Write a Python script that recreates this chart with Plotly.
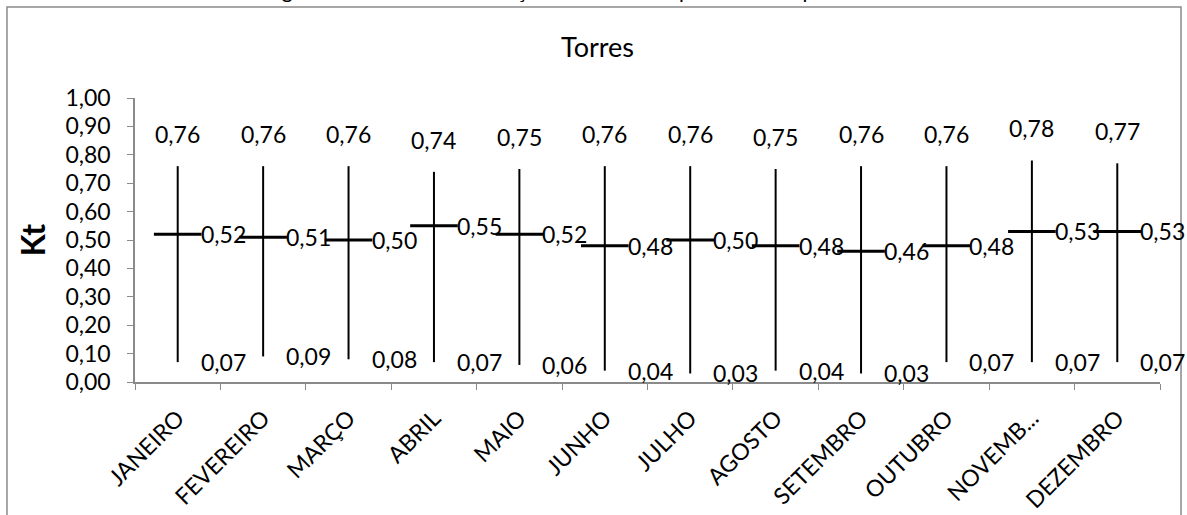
import plotly.graph_objects as go

# Monthly clearness index (Kt) for Torres: maximum, mean and minimum
meses = ["JANEIRO", "FEVEREIRO", "MARÇO", "ABRIL", "MAIO", "JUNHO",
         "JULHO", "AGOSTO", "SETEMBRO", "OUTUBRO", "NOVEMB...", "DEZEMBRO"]
kt_max = [0.76, 0.76, 0.76, 0.74, 0.75, 0.76, 0.76, 0.75, 0.76, 0.76, 0.78, 0.77]
kt_med = [0.52, 0.51, 0.50, 0.55, 0.52, 0.48, 0.50, 0.48, 0.46, 0.48, 0.53, 0.53]
kt_min = [0.07, 0.09, 0.08, 0.07, 0.06, 0.04, 0.03, 0.04, 0.03, 0.07, 0.07, 0.07]

y_ticks = [i / 10 for i in range(11)]
y_tick_text = [f"{v:.2f}".replace(".", ",") for v in y_ticks]

FONT = "Lato"
GRAY = "#8a8a8a"
LABEL_SIZE = 23


def br(v):
    return f"{v:.2f}".replace(".", ",")


# High-low segments: one trace with gaps between months
seg_x, seg_y = [], []
for m, lo, hi in zip(meses, kt_min, kt_max):
    seg_x += [m, m, None]
    seg_y += [lo, hi, None]

fig = go.Figure()
fig.add_trace(go.Scatter(
    x=seg_x, y=seg_y, mode="lines",
    line=dict(color="black", width=2),
    hoverinfo="skip", showlegend=False,
))
fig.add_trace(go.Scatter(
    x=meses, y=kt_med, mode="markers",
    marker=dict(symbol="line-ew", size=34, line=dict(color="black", width=3)),
    showlegend=False,
))

annotations = []
for m, hi, md, lo in zip(meses, kt_max, kt_med, kt_min):
    annotations.append(dict(x=m, y=hi, text=br(hi), showarrow=False,
                            xanchor="center", yanchor="middle", yshift=32))
    annotations.append(dict(x=m, y=md, text=br(md), showarrow=False,
                            xanchor="left", yanchor="middle", xshift=21))
    annotations.append(dict(x=m, y=lo, text=br(lo), showarrow=False,
                            xanchor="left", yanchor="middle", xshift=21))

# Chart title and the figure caption above the chart frame
annotations.append(dict(xref="paper", yref="paper", x=0.4512, y=1.18,
                        text="Torres", showarrow=False,
                        xanchor="center", yanchor="middle",
                        font=dict(size=27)))
annotations.append(dict(xref="paper", yref="paper", x=0.447, y=1.331,
                        text="Figura 4.12 – Faixa de variação do Kt mensal para o município de Torres",
                        showarrow=False, xanchor="center", yanchor="bottom",
                        font=dict(size=21)))

fig.update_layout(
    width=1187, height=515,
    margin=dict(l=135, r=27, t=98, b=133),
    paper_bgcolor="white", plot_bgcolor="white",
    font=dict(family=FONT, size=LABEL_SIZE, color="black"),
    annotations=annotations,
    shapes=[dict(type="rect", xref="paper", yref="paper",
                 x0=-0.1249, x1=1.0205, y0=-0.6, y1=1.3204,
                 line=dict(color=GRAY, width=1.5), layer="below")],
    xaxis=dict(
        type="category", categoryorder="array", categoryarray=meses,
        tickangle=-45, tickson="boundaries", ticks="outside", ticklen=6,
        tickcolor=GRAY, showline=True, linecolor=GRAY, linewidth=1.5,
        showgrid=False, zeroline=False, range=[-0.5, 11.5],
        tickfont=dict(size=23), ticklabelstandoff=12, automargin=False,
    ),
    yaxis=dict(
        range=[0, 1], tickvals=y_ticks, ticktext=y_tick_text,
        ticks="outside", ticklen=6, tickcolor=GRAY,
        showline=True, linecolor=GRAY, linewidth=1.5,
        showgrid=False, zeroline=False, tickfont=dict(size=LABEL_SIZE),
        ticklabelstandoff=12, automargin=False,
        title=dict(text="<b>Kt</b>", font=dict(size=32), standoff=10),
    ),
)

fig.write_html("out.html")
